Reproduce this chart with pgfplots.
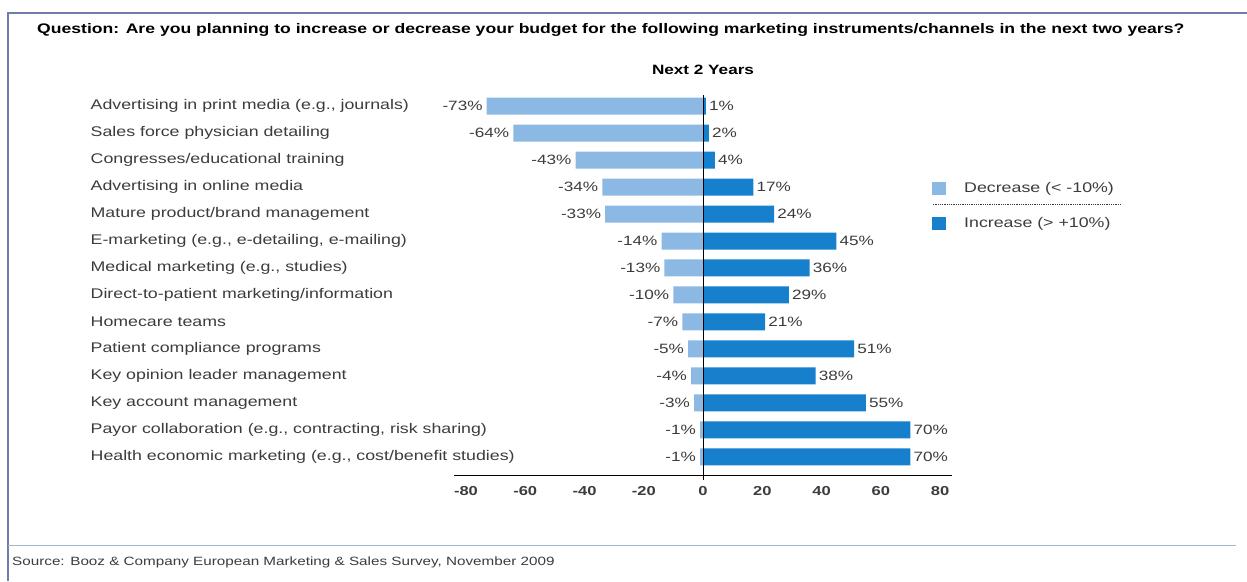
\documentclass[border=0pt]{standalone}
\usepackage{fontspec}
\setmainfont{Liberation Sans}[FakeStretch=1.27]
\usepackage{pgfplots}
\pgfplotsset{compat=1.18}
\pgfkeys{/pgf/number format/assume math mode=true}
\definecolor{dec}{RGB}{140,185,228}
\definecolor{inc}{RGB}{22,128,204}
\definecolor{txt}{RGB}{60,60,60}
\definecolor{frm}{RGB}{110,125,170}
\definecolor{sep}{RGB}{160,185,205}
\begin{document}
\begin{tikzpicture}[x=1pt,y=1pt]
\useasboundingbox (0,0) rectangle (1247,581);
\draw[frm, line width=1.2pt] (8,0) -- (8,568) -- (1247,568);
\draw[sep, line width=1pt] (8,36) -- (1236,36);
\node[anchor=west, font=\fontsize{12}{14}\selectfont, text=txt, inner sep=0pt] at (12,19) {Source: Booz \& Company European Marketing \& Sales Survey, November 2009};
\node[anchor=west, font=\fontsize{13.85}{15}\selectfont\bfseries, inner sep=0pt] at (37,551) {Question: Are you planning to increase or decrease your budget for the following marketing instruments/channels in the next two years?};
\node[font=\fontsize{13.5}{15}\selectfont\bfseries, inner sep=0pt] at (703,511) {Next 2 Years};
\begin{axis}[
  scale only axis, width=497.7pt, height=380pt,
  at={(454.15pt,106pt)}, anchor=south west,
  xmin=-84, xmax=84, ymin=-0.67, ymax=13.41,
  axis x line*=bottom, axis y line*=left,
  y axis line style={draw=none},
  x axis line style={black, thin, -},
  tick style={draw=none}, major tick length=0pt,
  xtick={-80,-60,-40,-20,0,20,40,60,80},
  ytick={0,...,13},
  yticklabels={{Health economic marketing (e.g., cost/benefit studies)},
    {Payor collaboration (e.g., contracting, risk sharing)},
    {Key account management},
    {Key opinion leader management},
    {Patient compliance programs},
    {Homecare teams},
    {Direct-to-patient marketing/information},
    {Medical marketing (e.g., studies)},
    {E-marketing (e.g., e-detailing, e-mailing)},
    {Mature product/brand management},
    {Advertising in online media},
    {Congresses/educational training},
    {Sales force physician detailing},
    {Advertising in print media (e.g., journals)}},
  yticklabel style={anchor=west, xshift=-367pt, font=\fontsize{14}{16}\selectfont, text=txt},
  xticklabel style={font=\fontsize{13}{15}\selectfont\bfseries, text=txt, yshift=-8pt},
  xbar, bar width=17pt, bar shift=0pt,
  clip=false,
  nodes near coords={\pgfmathprintnumber{\pgfplotspointmeta}\%},
  nodes near coords style={font=\fontsize{13.5}{15}\selectfont, text=txt},
  legend style={draw=none, fill=none, at={(axis cs:77.3,10.2)}, anchor=north west,
    font=\fontsize{14}{16}\selectfont, text=txt, row sep=22pt, inner sep=0pt,
    nodes={inner sep=0pt}},
  legend cell align=left,
  legend image code/.code={\fill[#1] (0pt,-6.5pt) rectangle (14pt,6.5pt); \path[draw=none,fill=none] (0pt,-0.1pt) rectangle (32pt,0.1pt);},
]
\addplot[fill=dec, draw=none, every node near coord/.append style={anchor=east, inner sep=4pt}] coordinates {
  (-73,13) (-64,12) (-43,11) (-34,10) (-33,9) (-14,8) (-13,7) (-10,6) (-7,5) (-5,4) (-4,3) (-3,2) (-1,1) (-1,0)};
\addlegendentry{Decrease (< -10\%)}
\addplot[fill=inc, draw=none, every node near coord/.append style={anchor=west, inner sep=3pt}] coordinates {
  (1,13) (2,12) (4,11) (17,10) (24,9) (45,8) (36,7) (29,6) (21,5) (51,4) (38,3) (55,2) (70,1) (70,0)};
\addlegendentry{Increase (> +10\%)}
\draw[black, thin] (axis cs:0,-0.85) -- (axis cs:0,13.41);
\draw[txt, densely dotted, line width=0.8pt] (axis cs:77.6,9.37) -- (axis cs:140.8,9.37);
\end{axis}
\end{tikzpicture}
\end{document}
